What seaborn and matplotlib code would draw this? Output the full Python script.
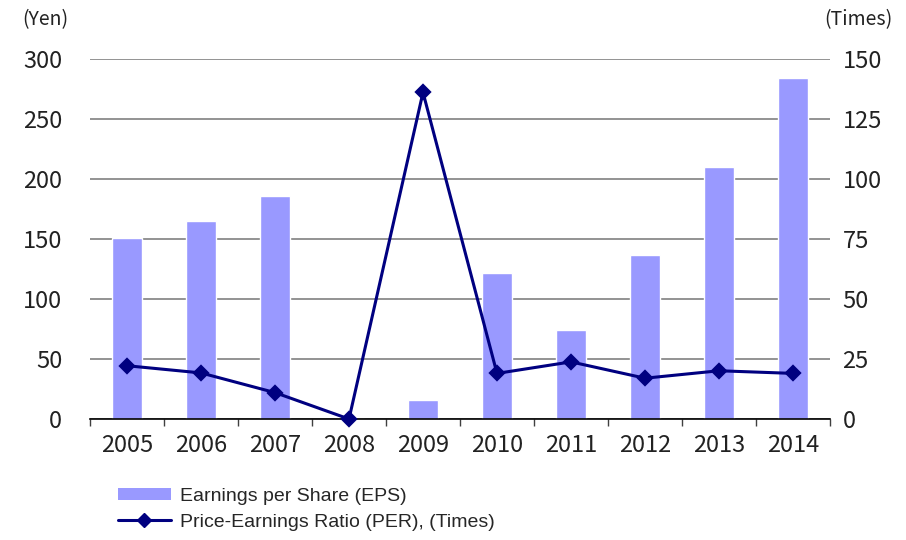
import matplotlib
matplotlib.use("Agg")
import matplotlib.pyplot as plt
from matplotlib.patches import Patch
from matplotlib.lines import Line2D
import numpy as np
import pandas as pd
import seaborn as sns

sns.set_theme(style="white")
plt.rcParams['font.family'] = ['Noto Sans CJK KR', 'DejaVu Sans']

# values
years = ["2005", "2006", "2007", "2008", "2009", "2010", "2011", "2012", "2013", "2014"]
eps = [151, 165, 186, 0, 16, 122, 74, 137, 210, 284]
per = [22.2, 19.2, 11.0, 0.0, 136.1, 19.0, 23.8, 17.0, 20.1, 19.0]

df = pd.DataFrame({"Year": years, "EPS": eps, "PER": per})

bar_color = "#9999FF"
line_color = "#000080"

fig = plt.figure(figsize=(9.06, 5.4), dpi=100)
ax = fig.add_axes([90 / 906, 1 - 419 / 540, 740 / 906, 360 / 540])

sns.barplot(data=df, x="Year", y="EPS", color=bar_color, width=0.41,
            saturation=1, ax=ax, zorder=2)

ax2 = ax.twinx()
sns.pointplot(data=df, x="Year", y="PER", color=line_color, markers="D",
              markersize=7, linewidth=2.2, ax=ax2, zorder=3)
for art in ax2.lines + ax2.collections:
    art.set_clip_on(False)

ax.set_ylim(0, 300)
ax2.set_ylim(0, 150)
ax.set_xlim(-0.5, 9.5)
ax.set_yticks(np.arange(0, 301, 50))
ax2.set_yticks(np.arange(0, 151, 25))

ax.yaxis.grid(True, color="#808080", linewidth=1.2)
ax.set_axisbelow(True)

for a in (ax, ax2):
    for s in ["top", "left", "right", "bottom"]:
        a.spines[s].set_visible(False)
    a.set_xlabel("")
    a.set_ylabel("")

ax.spines["bottom"].set_visible(True)
ax.spines["bottom"].set_color("black")
ax.spines["bottom"].set_linewidth(1.2)

ax.set_xticks(np.arange(-0.5, 10, 1), minor=True)
ax.tick_params(axis="x", which="minor", length=5, width=1, color="#404040", direction="out", bottom=True)
ax.tick_params(axis="x", which="major", length=0, pad=11, labelsize=17, labelcolor="#222222")
ax.tick_params(axis="y", length=0, pad=20, labelsize=17, labelcolor="#222222")
ax2.tick_params(axis="y", length=0, pad=9, labelsize=17, labelcolor="#222222")
ax2.set_xlim(-0.5, 9.5)

fig.text(22 / 906, 1 - 20 / 540, "(Yen)", fontsize=14, color="#222222", va="center", ha="left")
fig.text(892 / 906, 1 - 20 / 540, "(Times)", fontsize=14, color="#222222", va="center", ha="right")

handles = [
    Patch(facecolor=bar_color, edgecolor="none"),
    Line2D([0], [0], color=line_color, linewidth=2.2, marker="D", markersize=7),
]
labels = ["Earnings per Share (EPS)", "Price-Earnings Ratio (PER), (Times)"]
fig.legend(handles, labels, loc="upper left", bbox_to_anchor=(118 / 906, 1 - 488 / 540),
           frameon=False, borderpad=0, borderaxespad=0,
           handlelength=2.7, handleheight=0.55, handletextpad=0.5, labelspacing=0.45,
           prop={"family": "Liberation Sans", "size": 14})

plt.savefig("out.png", dpi=100)
